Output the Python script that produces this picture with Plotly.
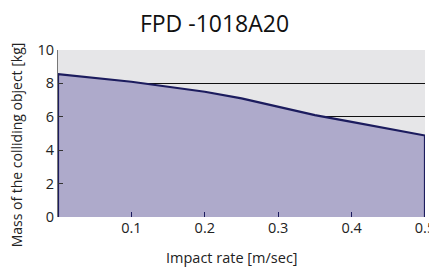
import plotly.graph_objects as go

speed = [0.0, 0.1, 0.2, 0.25, 0.3, 0.35, 0.4, 0.45, 0.5]
mass = [8.55, 8.1, 7.5, 7.1, 6.6, 6.1, 5.7, 5.3, 4.88]
title = "FPD -1018A20"
x_title = "Impact rate [m/sec]"
y_title = "Mass of the colliding object [kg]"

xs = [speed[0]] + speed + [speed[-1]]
ys = [0] + mass + [0]

fig = go.Figure(go.Scatter(
    x=xs, y=ys, mode="lines", fill="toself",
    fillcolor="#aeaacb", line=dict(color="#1c1c5e", width=2.2),
    hoverinfo="skip", showlegend=False))

fig.update_layout(
    width=429, height=267,
    margin=dict(l=58, r=4, t=50, b=50),
    paper_bgcolor="white", plot_bgcolor="#e6e6e8",
    font=dict(family="Open Sans, sans-serif", color="#222"),
    title=dict(text=title, x=0.5, xanchor="center", y=0.91, yanchor="middle",
               font=dict(size=23, color="#111")),
    annotations=[
        dict(text=x_title, xref="paper", yref="paper", x=0.474, y=-0.24,
             xanchor="center", yanchor="middle", showarrow=False,
             font=dict(size=14.5, color="#222")),
        dict(text=y_title, xref="paper", yref="paper", x=-0.114, y=0.43,
             xanchor="center", yanchor="middle", showarrow=False, textangle=-90,
             font=dict(size=14, color="#222")),
    ],
)
fig.update_xaxes(range=[0, 0.5], tickvals=[0.1, 0.2, 0.3, 0.4, 0.5],
                 ticktext=["0.1", "0.2", "0.3", "0.4", "0.5"],
                 ticks="inside", ticklen=5, tickcolor="#1c1c5e",
                 showgrid=False, zeroline=False, showline=False,
                 tickfont=dict(size=14.5), automargin=False, ticklabeloverflow="allow")
fig.update_yaxes(range=[0, 10], tickvals=[0, 2, 4, 6, 8, 10],
                 ticks="inside", ticklen=5, tickcolor="#333",
                 showgrid=True, gridcolor="#111", gridwidth=1,
                 zeroline=False, showline=True, linecolor="#777", linewidth=1,
                 tickfont=dict(size=14.5), automargin=False, ticklabeloverflow="allow")

fig.write_html("out.html", config={"displayModeBar": False},
               post_script="document.body.style.margin='0';")
